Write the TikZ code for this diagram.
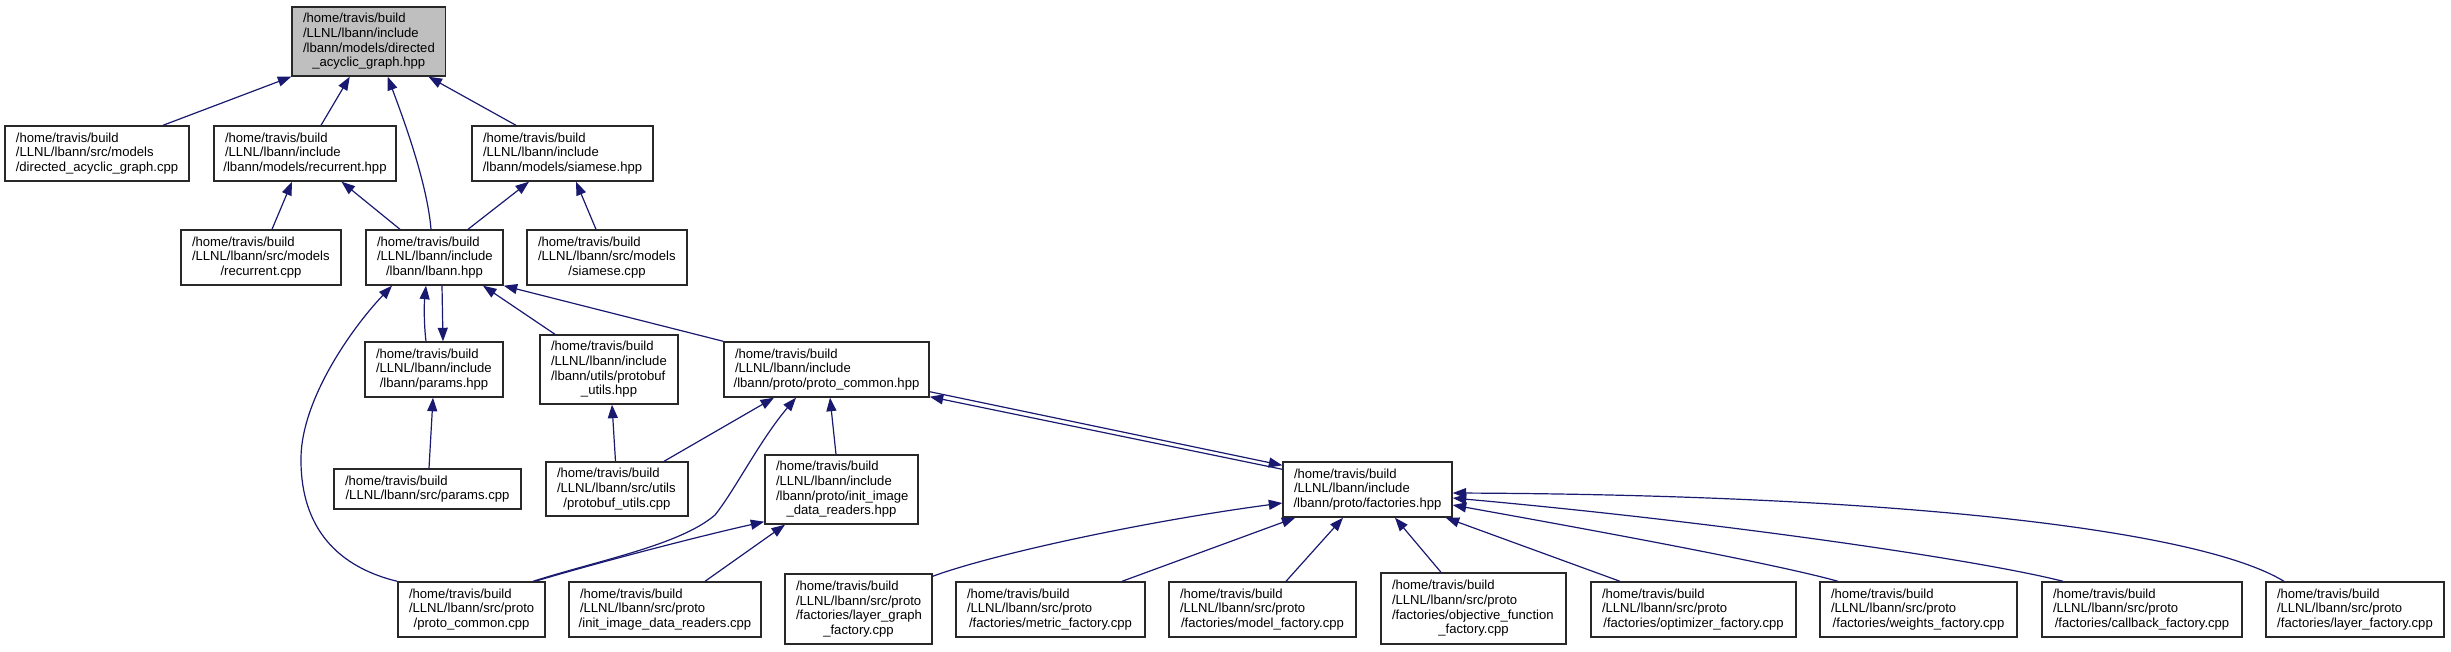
\documentclass[tikz,border=0pt]{standalone}
\usepackage{fontspec}
\setmainfont{Liberation Sans}
\usetikzlibrary{arrows.meta}
\definecolor{edgecol}{RGB}{25,25,112}
\definecolor{rootfill}{RGB}{191,191,191}
\definecolor{boxline}{RGB}{40,40,40}
\setlength\parindent{0pt}
\newcommand\lastline[1]{\makebox[\hsize][c]{#1}}
\newcommand\dbox[7][]{%
  \pgfmathsetmacro\dbw{#5-#3}%
  \pgfmathsetmacro\dbh{#6-#4}%
  \pgfmathsetmacro\dbtw{#5-#3-22}%
  \pgfmathsetmacro\dbcx{(#3+#5)/2}%
  \pgfmathsetmacro\dbcy{(#4+#6)/2}%
  \node[nodebox,#1,minimum width=\dbw pt,minimum height=\dbh pt,text width=\dbtw pt] (#2) at (\dbcx,\dbcy) {#7};}
\tikzset{
  nodebox/.style={draw=boxline,line width=1.4pt,fill=white,inner sep=0pt,align=left,
    font=\fontsize{13.1pt}{14.7pt}\selectfont},
  edge/.style={draw=edgecol,line width=1.2pt,-{Triangle[length=13.5pt,width=10pt]}}
}
\begin{document}
\begin{tikzpicture}[x=1pt,y=-1pt]
\useasboundingbox (0,0) rectangle (2451,651);
% nodes
\dbox[fill=rootfill]{root}{292}{7}{445.5}{76}{/home/travis/build\\/LLNL/lbann/include\\/lbann/models/directed\\\lastline{\_acyclic\_graph.hpp}}
\dbox{dagcpp}{5}{126}{189}{181}{/home/travis/build\\/LLNL/lbann/src/models\\\lastline{/directed\_acyclic\_graph.cpp}}
\dbox{rechpp}{214}{126}{396}{181}{/home/travis/build\\/LLNL/lbann/include\\\lastline{/lbann/models/recurrent.hpp}}
\dbox{siahpp}{472}{126}{653}{181}{/home/travis/build\\/LLNL/lbann/include\\\lastline{/lbann/models/siamese.hpp}}
\dbox{reccpp}{181}{230}{341}{285}{/home/travis/build\\/LLNL/lbann/src/models\\\lastline{/recurrent.cpp}}
\dbox{lbannhpp}{366}{230}{503}{285}{/home/travis/build\\/LLNL/lbann/include\\\lastline{/lbann/lbann.hpp}}
\dbox{siacpp}{527}{230}{687}{285}{/home/travis/build\\/LLNL/lbann/src/models\\\lastline{/siamese.cpp}}
\dbox{paramshpp}{365}{342}{503}{397}{/home/travis/build\\/LLNL/lbann/include\\\lastline{/lbann/params.hpp}}
\dbox{pbuhpp}{540}{335}{678}{404}{/home/travis/build\\/LLNL/lbann/include\\/lbann/utils/protobuf\\\lastline{\_utils.hpp}}
\dbox{pchpp}{724}{342}{929}{397}{/home/travis/build\\/LLNL/lbann/include\\\lastline{/lbann/proto/proto\_common.hpp}}
\dbox{paramscpp}{334}{469}{521}{509}{/home/travis/build\\\lastline{/LLNL/lbann/src/params.cpp}}
\dbox{pbucpp}{546}{462}{688}{516}{/home/travis/build\\/LLNL/lbann/src/utils\\\lastline{/protobuf\_utils.cpp}}
\dbox{iidrhpp}{765}{455}{918}{524}{/home/travis/build\\/LLNL/lbann/include\\/lbann/proto/init\_image\\\lastline{\_data\_readers.hpp}}
\dbox{facthpp}{1283}{462}{1452}{517}{/home/travis/build\\/LLNL/lbann/include\\\lastline{/lbann/proto/factories.hpp}}
\dbox{pccpp}{398}{582}{545}{637}{/home/travis/build\\/LLNL/lbann/src/proto\\\lastline{/proto\_common.cpp}}
\dbox{iidrcpp}{569}{582}{761}{637}{/home/travis/build\\/LLNL/lbann/src/proto\\\lastline{/init\_image\_data\_readers.cpp}}
\dbox{lgfcpp}{785}{574}{932}{644}{/home/travis/build\\/LLNL/lbann/src/proto\\/factories/layer\_graph\\\lastline{\_factory.cpp}}
\dbox{metcpp}{956}{582}{1145}{637}{/home/travis/build\\/LLNL/lbann/src/proto\\\lastline{/factories/metric\_factory.cpp}}
\dbox{modcpp}{1169}{582}{1356}{637}{/home/travis/build\\/LLNL/lbann/src/proto\\\lastline{/factories/model\_factory.cpp}}
\dbox{objcpp}{1381}{573}{1566}{644}{/home/travis/build\\/LLNL/lbann/src/proto\\/factories/objective\_function\\\lastline{\_factory.cpp}}
\dbox{optcpp}{1591}{582}{1796}{637}{/home/travis/build\\/LLNL/lbann/src/proto\\\lastline{/factories/optimizer\_factory.cpp}}
\dbox{wcpp}{1820}{582}{2017}{637}{/home/travis/build\\/LLNL/lbann/src/proto\\\lastline{/factories/weights\_factory.cpp}}
\dbox{cbcpp}{2042}{582}{2242}{637}{/home/travis/build\\/LLNL/lbann/src/proto\\\lastline{/factories/callback\_factory.cpp}}
\dbox{lfcpp}{2266}{582}{2444}{637}{/home/travis/build\\/LLNL/lbann/src/proto\\\lastline{/factories/layer\_factory.cpp}}
% edges
\draw[edge] ([xshift=66pt]dagcpp.north) -- (root.south west);
\draw[edge] ([xshift=16pt]rechpp.north) -- ([xshift=-19pt]root.south);
\draw[edge] ([xshift=-3.5pt]lbannhpp.north) .. controls (427,180) and (400,110) .. ([xshift=19pt]root.south);
\draw[edge] ([xshift=-46.5pt]siahpp.north) -- ([xshift=59.75pt]root.south);
\draw[edge] ([xshift=11pt]reccpp.north) -- ([xshift=-13pt]rechpp.south);
\draw[edge] ([xshift=-34.5pt]lbannhpp.north) -- ([xshift=36.5pt]rechpp.south);
\draw[edge] ([xshift=33.5pt]lbannhpp.north) -- ([xshift=-33.5pt]siahpp.south);
\draw[edge] ([xshift=-11pt]siacpp.north) -- ([xshift=13.5pt]siahpp.south);
\draw[edge] ([xshift=-8pt]paramshpp.north) .. controls (424,325) and (424,305) .. ([xshift=-8.5pt]lbannhpp.south);
\draw[edge] ([xshift=7.5pt]lbannhpp.south) -- ([xshift=9pt]paramshpp.north);
\draw[edge] ([xshift=-54pt]pbuhpp.north) -- ([xshift=48.5pt]lbannhpp.south);
\draw[edge] (pchpp.north west) -- (lbannhpp.south east);
\draw[edge] (pccpp.north west) .. controls (330,565) and (300,520) .. (301,457) .. controls (302,400) and (350,330) .. ([xshift=-42.5pt]lbannhpp.south);
\draw[edge] ([xshift=1.5pt]paramscpp.north) -- ([xshift=-1pt]paramshpp.south);
\draw[edge] ([xshift=-1.5pt]pbucpp.north) -- ([xshift=3pt]pbuhpp.south);
\draw[edge] ([xshift=47pt]pbucpp.north) -- ([xshift=-52.5pt]pchpp.south);
\draw[edge] ([xshift=61.5pt]pccpp.north) .. controls (600,560) and (680,545) .. (715,515) .. controls (735,490) and (760,440) .. ([xshift=-30.5pt]pchpp.south);
\draw[edge] ([xshift=-5.5pt]iidrhpp.north) -- ([xshift=3.5pt]pchpp.south);
\draw[edge] ([xshift=63.5pt]pccpp.north) .. controls (600,562) and (700,536) .. ([yshift=3pt]iidrhpp.south west);
\draw[edge] ([xshift=40pt]iidrcpp.north) -- ([xshift=-56.5pt]iidrhpp.south);
\draw[edge] ([yshift=6pt]pchpp.south east) -- ([yshift=-4pt]facthpp.north west);
\draw[edge] ([yshift=-8pt]facthpp.north west) -- ([yshift=1pt]pchpp.south east);
\draw[edge] ([yshift=-3pt]lgfcpp.north east) .. controls (990,555) and (1140,522) .. ([yshift=-13.5pt]facthpp.west);
\draw[edge] ([xshift=71.5pt]metcpp.north) -- ([xshift=13pt]facthpp.south west);
\draw[edge] ([xshift=23.5pt]modcpp.north) -- ([xshift=-24.5pt]facthpp.south);
\draw[edge] ([xshift=-32.5pt]objcpp.north) -- ([xshift=27.5pt]facthpp.south);
\draw[edge] ([xshift=-73.5pt]optcpp.north) -- ([xshift=-7pt]facthpp.south east);
\draw[edge] ([xshift=-80.5pt]wcpp.north) .. controls (1780,565) and (1620,535) .. ([yshift=-15.5pt]facthpp.east);
\draw[edge] ([xshift=-79pt]cbcpp.north) .. controls (1980,560) and (1720,522) .. ([yshift=-8.5pt]facthpp.east);
\draw[edge] ([xshift=-71pt]lfcpp.north) .. controls (2200,530) and (1900,495) .. ([yshift=-3.5pt]facthpp.east);
\end{tikzpicture}
\end{document}
